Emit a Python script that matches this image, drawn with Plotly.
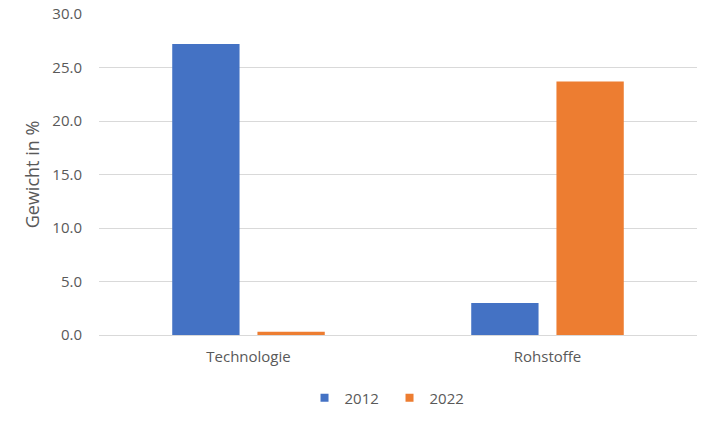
import plotly.graph_objects as go

categories = ["Technologie", "Rohstoffe"]
series_names = ["2012", "2022"]
values_2012 = [27.2, 3.0]
values_2022 = [0.3, 23.7]
tick_vals = [0, 5, 10, 15, 20, 25, 30]

colors = {"2012": "#4472C4", "2022": "#ED7D31"}
font_color = "#595959"
grid_color = "#D9D9D9"
font_family = "Open Sans, Lato, sans-serif"

fig = go.Figure()
for name, vals in zip(series_names, [values_2012, values_2022]):
    fig.add_trace(go.Bar(x=categories, y=vals, name=name, marker_color=colors[name],
                         marker_line_width=0, showlegend=False))
# legend entries with small square symbols
for name in series_names:
    fig.add_trace(go.Scatter(x=[None], y=[None], mode="markers", name=name,
                             marker=dict(symbol="square", size=8, color=colors[name]),
                             showlegend=True))

fig.update_layout(
    width=720, height=429,
    margin=dict(l=99, r=23, t=14, b=94, autoexpand=False),
    paper_bgcolor="white", plot_bgcolor="white",
    font=dict(family=font_family, size=15, color=font_color),
    barmode="group", bargap=0.43, bargroupgap=0.21,
    legend=dict(orientation="h", xref="container", yref="container",
                x=0.541, xanchor="center", y=0.072, yanchor="middle",
                font=dict(family=font_family, size=15, color=font_color),
                entrywidth=40, traceorder="normal"),
)
fig.update_yaxes(range=[0, 30], tickvals=tick_vals, tickformat=".1f",
                 showgrid=True, gridcolor=grid_color, gridwidth=1,
                 zeroline=False, showline=False, ticklabelstandoff=16,
                 automargin=False,
                 title=dict(text="Gewicht in %", font=dict(family=font_family, size=18, color=font_color),
                            standoff=8))
fig.update_xaxes(showline=True, linecolor=grid_color, linewidth=1, automargin=False,
                 ticks="", ticklabelstandoff=8)

fig.write_html("out.html")
